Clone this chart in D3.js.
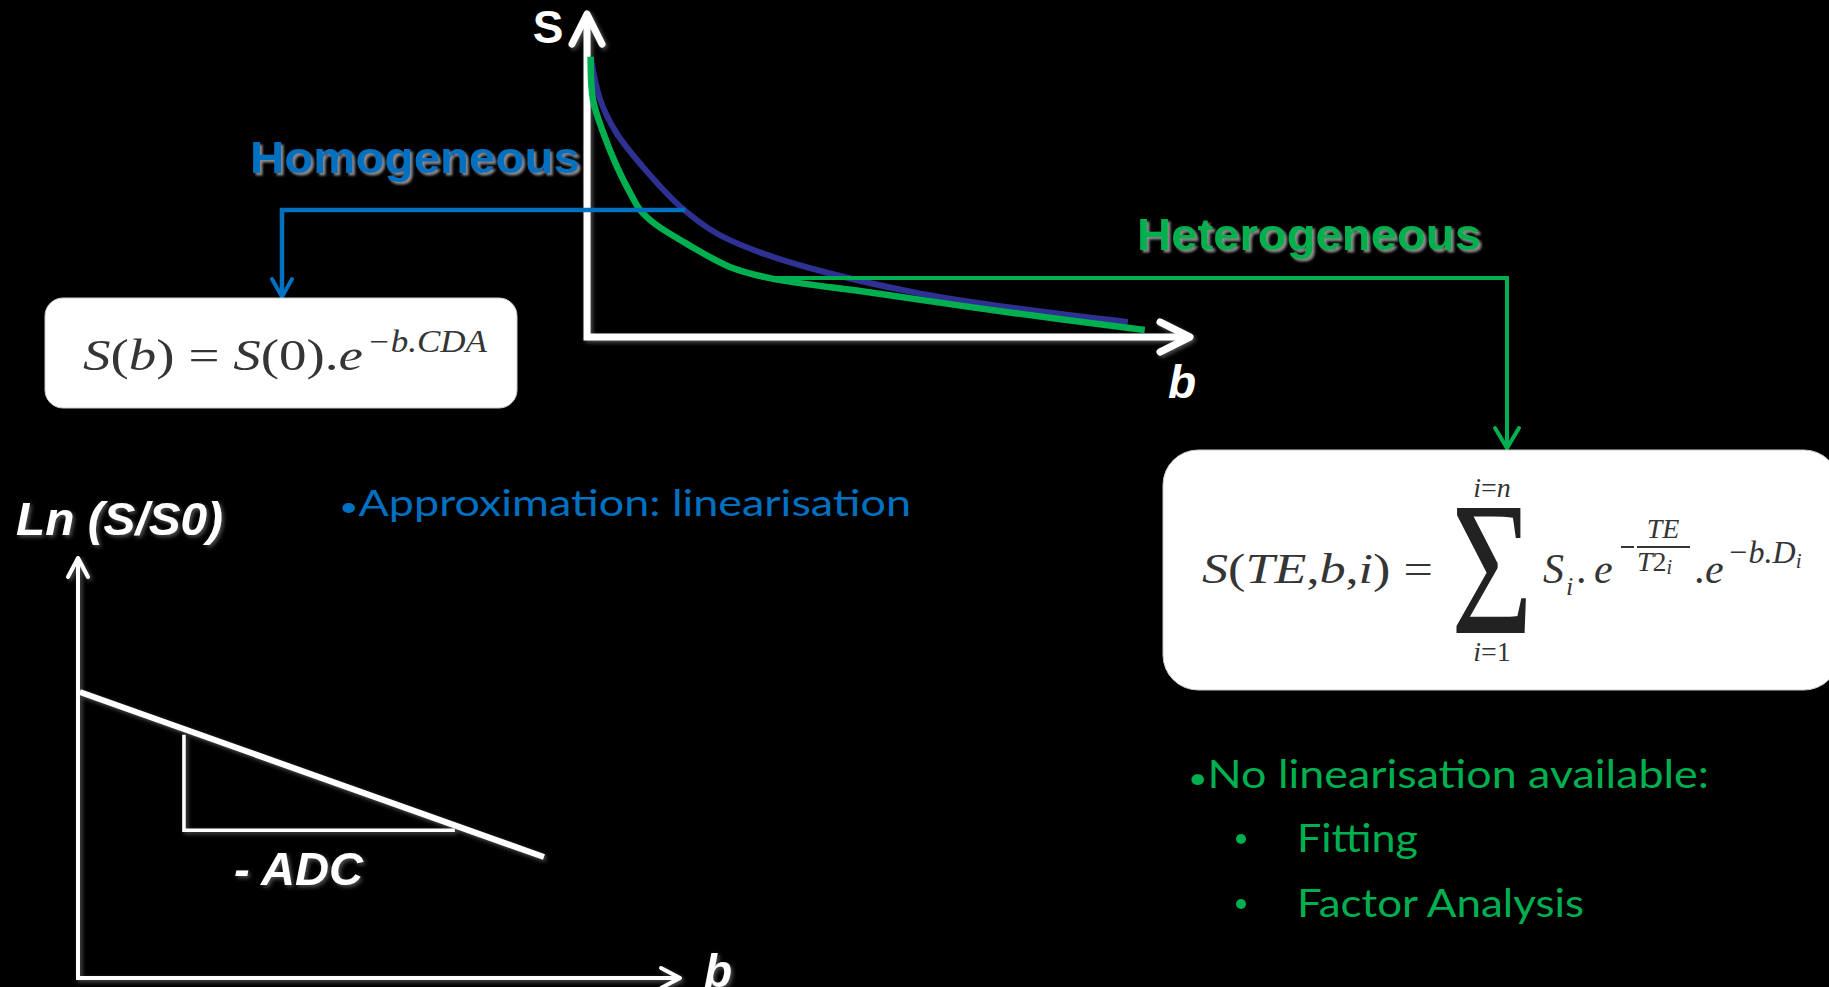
<!DOCTYPE html>
<html>
<head>
<meta charset="utf-8">
<script src="https://cdn.jsdelivr.net/npm/d3@7"></script>
<style>
  html, body { margin: 0; padding: 0; background: #000; }
  svg { display: block; }
</style>
</head>
<body>
<script>
// ---------- data ----------
// Upper chart: signal S versus b (arbitrary units, 0..100 on each axis)
const homogeneousB = [0.6, 2.2, 4.9, 9.3, 15.4, 21.4, 28.9, 40.0, 54.7, 69.5, 89.7];
const homogeneousS = [87.6, 74.1, 63.7, 53.1, 40.9, 32.5, 26.3, 20.0, 13.8, 9.4, 4.7];
const heterogeneousB = [0.6, 1.0, 2.7, 5.0, 7.5, 8.8, 11.3, 16.3, 23.7, 30.3, 47.3, 69.5, 92.5];
const heterogeneousS = [87.6, 74.1, 63.8, 53.1, 43.8, 39.7, 35.3, 29.4, 21.9, 18.4, 13.8, 7.8, 2.2];
// connector anchor points on the curves
const homogeneousAnchor = { b: 16.3, s: 39.7 };
const heterogeneousAnchor = { b: 30.3, s: 18.4 };
// Lower chart: Ln(S/S0) versus b
const lnB = [0.3, 77.4];
const lnV = [68.1, 28.8];
const slopeB = [17.6, 62.6];
const slopeV = [57.9, 35.2];

const labels = {
  topY: "S", topX: "b", botY: "Ln (S/S0)", botX: "b", slope: "- ADC",
  homo: "Homogeneous", hetero: "Heterogeneous",
  approx: "Approximation: linearisation",
  noLin: "No linearisation available:",
  items: ["Fitting", "Factor Analysis"]
};

// ---------- setup ----------
const W = 1829, H = 987;
const BLUE = "#0070C0", GREEN = "#00B050", NAVY = "#2E3192", MATH = "#353535";
const svg = d3.select("body").append("svg").attr("width", W).attr("height", H);
svg.append("rect").attr("width", W).attr("height", H).attr("fill", "#000");

const defs = svg.append("defs");
const sh = defs.append("filter").attr("id", "tshadow").attr("x", "-10%").attr("y", "-20%").attr("width", "130%").attr("height", "150%");
sh.append("feDropShadow").attr("dx", 2.5).attr("dy", 2.5).attr("stdDeviation", 1.2).attr("flood-color", "#9a9a9a").attr("flood-opacity", 0.9);
const glow = defs.append("filter").attr("id", "glow").attr("x", "-20%").attr("y", "-20%").attr("width", "140%").attr("height", "140%");
glow.append("feDropShadow").attr("dx", 2).attr("dy", 2).attr("stdDeviation", 2).attr("flood-color", "#888").attr("flood-opacity", 0.6);

// ---------- upper chart ----------
const x1 = d3.scaleLinear().domain([0, 100]).range([587, 1190]);
const y1 = d3.scaleLinear().domain([0, 100]).range([337, 17]);

const gTop = svg.append("g");
const axTop = gTop.append("g").attr("filter", "url(#glow)")
  .attr("stroke", "#fff").attr("fill", "none").attr("stroke-width", 7)
  .attr("stroke-linecap", "round").attr("stroke-linejoin", "round");
axTop.append("path").attr("d", `M${x1(0)},${y1(100) - 2} L${x1(0)},${y1(0)} L${x1(100) - 2},${y1(0)}`)
  .attr("stroke-linecap", "butt").attr("stroke-linejoin", "miter");
axTop.append("path").attr("d", `M${x1(0) - 15},${y1(100) + 27} L${x1(0)},${y1(100) - 3} L${x1(0) + 15},${y1(100) + 27}`);
axTop.append("path").attr("d", `M${x1(100) - 30},${y1(0) - 15} L${x1(100)},${y1(0)} L${x1(100) - 30},${y1(0) + 15}`);

gTop.append("text").attr("x", 548).attr("y", 43).attr("text-anchor", "middle")
  .attr("font-family", "Liberation Sans, Arial, sans-serif").attr("font-weight", "bold")
  .attr("font-size", 46).attr("fill", "#fff").text(labels.topY);
gTop.append("text").attr("x", 1182).attr("y", 398).attr("text-anchor", "middle")
  .attr("font-family", "Liberation Sans, Arial, sans-serif").attr("font-weight", "bold").attr("font-style", "italic")
  .attr("font-size", 46).attr("fill", "#fff").text(labels.topX);

// curves
const line1 = d3.line().x(d => x1(d[0])).y(d => y1(d[1])).curve(d3.curveCatmullRom.alpha(0.5));
gTop.append("path").datum(homogeneousB.map((b, i) => [b, homogeneousS[i]]))
  .attr("d", line1).attr("fill", "none").attr("stroke", NAVY).attr("stroke-width", 6);
gTop.append("path").datum(heterogeneousB.map((b, i) => [b, heterogeneousS[i]]))
  .attr("d", line1).attr("fill", "none").attr("stroke", GREEN).attr("stroke-width", 6.5);

// ---------- connectors ----------
const conn = svg.append("g").attr("fill", "none").attr("stroke-linejoin", "miter");
const hx = x1(homogeneousAnchor.b), hy = y1(homogeneousAnchor.s);
conn.append("path").attr("d", `M${hx},${hy} L282,${hy} L282,296`).attr("stroke", BLUE).attr("stroke-width", 4.5);
conn.append("path").attr("d", `M272,279 L282,297 L292,279`).attr("stroke", BLUE).attr("stroke-width", 4).attr("stroke-linecap", "round");
const gx = x1(heterogeneousAnchor.b), gy = y1(heterogeneousAnchor.s);
conn.append("path").attr("d", `M${gx - 8},${gy} L1507,${gy} L1507,446`).attr("stroke", GREEN).attr("stroke-width", 4);
conn.append("path").attr("d", `M1495,428 L1507,448 L1519,428`).attr("stroke", GREEN).attr("stroke-width", 4).attr("stroke-linecap", "round");

svg.append("text").attr("x", 250).attr("y", 173).attr("textLength", 330).attr("lengthAdjust", "spacingAndGlyphs")
  .attr("font-family", "Liberation Sans, Arial, sans-serif").attr("font-weight", "bold").attr("font-size", 45)
  .attr("fill", BLUE).attr("filter", "url(#tshadow)").text(labels.homo);
svg.append("text").attr("x", 1137).attr("y", 250).attr("textLength", 344).attr("lengthAdjust", "spacingAndGlyphs")
  .attr("font-family", "Liberation Sans, Arial, sans-serif").attr("font-weight", "bold").attr("font-size", 45)
  .attr("fill", GREEN).attr("filter", "url(#tshadow)").text(labels.hetero);

// ---------- formula boxes ----------
const SERIF = "Liberation Serif, 'DejaVu Serif', serif";
svg.append("rect").attr("x", 45).attr("y", 298).attr("width", 472).attr("height", 110).attr("rx", 18)
  .attr("fill", "#fff").attr("stroke", "#ccc").attr("stroke-width", 1);
const f1 = svg.append("text").attr("x", 83).attr("y", 370).attr("font-family", SERIF).attr("font-size", 44)
  .attr("fill", MATH).attr("textLength", 280).attr("lengthAdjust", "spacingAndGlyphs");
f1.append("tspan").attr("font-style", "italic").text("S");
f1.append("tspan").text("(");
f1.append("tspan").attr("font-style", "italic").text("b");
f1.append("tspan").text(") = ");
f1.append("tspan").attr("font-style", "italic").text("S");
f1.append("tspan").text("(0).");
f1.append("tspan").attr("font-style", "italic").text("e");
svg.append("text").attr("x", 367).attr("y", 352).attr("font-family", SERIF).attr("font-size", 31)
  .attr("font-style", "italic").attr("fill", MATH).attr("textLength", 120).attr("lengthAdjust", "spacingAndGlyphs")
  .text("\u2212b.CDA");

svg.append("rect").attr("x", 1163).attr("y", 450).attr("width", 676).attr("height", 240).attr("rx", 35)
  .attr("fill", "#fff").attr("stroke", "#ccc").attr("stroke-width", 1);
const f2 = svg.append("text").attr("x", 1202).attr("y", 583).attr("font-family", SERIF).attr("font-size", 42)
  .attr("fill", MATH).attr("textLength", 231).attr("lengthAdjust", "spacingAndGlyphs");
f2.append("tspan").attr("font-style", "italic").text("S");
f2.append("tspan").text("(");
f2.append("tspan").attr("font-style", "italic").text("TE");
f2.append("tspan").text(",");
f2.append("tspan").attr("font-style", "italic").text("b");
f2.append("tspan").text(",");
f2.append("tspan").attr("font-style", "italic").text("i");
f2.append("tspan").text(") =");
// sigma
svg.append("text").attr("x", 1451).attr("y", 633).attr("font-family", SERIF).attr("font-size", 190)
  .attr("fill", "#222").attr("textLength", 82).attr("lengthAdjust", "spacingAndGlyphs").text("\u03A3");
const lim = (y, t) => {
  const tx = svg.append("text").attr("x", 1492).attr("y", y).attr("text-anchor", "middle")
    .attr("font-family", SERIF).attr("font-size", 28).attr("fill", MATH);
  tx.append("tspan").attr("font-style", "italic").text("i");
  tx.append("tspan").text("=");
  tx.append("tspan").attr("font-style", t === "n" ? "italic" : "normal").text(t);
};
lim(497, "n");
lim(661, "1");
svg.append("text").attr("x", 1543).attr("y", 583).attr("font-family", SERIF).attr("font-size", 42)
  .attr("font-style", "italic").attr("fill", MATH).text("S");
svg.append("text").attr("x", 1566).attr("y", 595).attr("font-family", SERIF).attr("font-size", 26)
  .attr("font-style", "italic").attr("fill", MATH).text("i");
svg.append("text").attr("x", 1576).attr("y", 583).attr("font-family", SERIF).attr("font-size", 42)
  .attr("fill", MATH).text(".");
svg.append("text").attr("x", 1594).attr("y", 583).attr("font-family", SERIF).attr("font-size", 42)
  .attr("font-style", "italic").attr("fill", MATH).text("e");
svg.append("line").attr("x1", 1621).attr("x2", 1634).attr("y1", 547).attr("y2", 547).attr("stroke", MATH).attr("stroke-width", 2);
svg.append("line").attr("x1", 1637).attr("x2", 1690).attr("y1", 547).attr("y2", 547).attr("stroke", MATH).attr("stroke-width", 2);
svg.append("text").attr("x", 1663).attr("y", 538).attr("text-anchor", "middle").attr("font-family", SERIF)
  .attr("font-size", 28).attr("font-style", "italic").attr("fill", MATH).text("TE");
const den = svg.append("text").attr("x", 1637).attr("y", 571).attr("font-family", SERIF)
  .attr("font-size", 28).attr("fill", MATH);
den.append("tspan").attr("font-style", "italic").text("T");
den.append("tspan").text("2");
den.append("tspan").attr("font-style", "italic").attr("font-size", 20).attr("dy", 3).text("i");
svg.append("text").attr("x", 1694).attr("y", 583).attr("font-family", SERIF).attr("font-size", 42)
  .attr("fill", MATH).text(".");
svg.append("text").attr("x", 1705).attr("y", 583).attr("font-family", SERIF).attr("font-size", 42)
  .attr("font-style", "italic").attr("fill", MATH).text("e");
const ex2 = svg.append("text").attr("x", 1727).attr("y", 563).attr("font-family", SERIF)
  .attr("font-size", 32).attr("font-style", "italic").attr("fill", MATH);
ex2.append("tspan").text("\u2212b.D");
ex2.append("tspan").attr("font-size", 21).attr("dy", 5).text("i");

// ---------- bullet texts ----------
const SANS = "Lato, 'Open Sans', sans-serif";
const bulletText = (x, y, size, color, len, t) => {
  const tx = svg.append("text").attr("x", x).attr("y", y).attr("font-family", SANS).attr("font-size", size)
    .attr("fill", color).attr("textLength", len).attr("lengthAdjust", "spacingAndGlyphs");
  tx.append("tspan").attr("font-size", size * 0.75).text("\u2022");
  tx.append("tspan").text(t);
  return tx;
};
bulletText(339, 516, 37, BLUE, 572, labels.approx);
bulletText(1188, 788, 39, GREEN, 521, labels.noLin);
labels.items.forEach((t, i) => {
  const y = 852 + i * 65;
  svg.append("circle").attr("cx", 1241).attr("cy", y - 13).attr("r", 5).attr("fill", GREEN);
  svg.append("text").attr("x", 1297).attr("y", y).attr("font-family", SANS).attr("font-size", 39)
    .attr("fill", GREEN).attr("textLength", i === 0 ? 121 : 287).attr("lengthAdjust", "spacingAndGlyphs").text(t);
});

// ---------- lower chart ----------
const x2 = d3.scaleLinear().domain([0, 100]).range([78, 680]);
const y2 = d3.scaleLinear().domain([0, 100]).range([978, 558]);
const gBot = svg.append("g");
const axBot = gBot.append("g").attr("filter", "url(#glow)").attr("stroke", "#fff").attr("fill", "none")
  .attr("stroke-width", 4).attr("stroke-linecap", "round").attr("stroke-linejoin", "round");
axBot.append("path").attr("d", `M${x2(0)},${y2(100)} L${x2(0)},${y2(0)} L${x2(100)},${y2(0)}`)
  .attr("stroke-linejoin", "miter").attr("stroke-linecap", "butt");
axBot.append("path").attr("d", `M${x2(0) - 10},${y2(100) + 19} L${x2(0)},${y2(100)} L${x2(0) + 10},${y2(100) + 19}`);
axBot.append("path").attr("d", `M${x2(100) - 19},${y2(0) - 10} L${x2(100)},${y2(0)} L${x2(100) - 19},${y2(0) + 10}`);

const line2 = d3.line().x(d => x2(d[0])).y(d => y2(d[1]));
gBot.append("path").datum(lnB.map((b, i) => [b, lnV[i]])).attr("d", line2)
  .attr("fill", "none").attr("stroke", "#fff").attr("stroke-width", 6).attr("filter", "url(#glow)");
gBot.append("path").datum([[slopeB[0], slopeV[0]], [slopeB[0], slopeV[1]], [slopeB[1], slopeV[1]]]).attr("d", line2)
  .attr("fill", "none").attr("stroke", "#fff").attr("stroke-width", 3.5).attr("filter", "url(#glow)");

const boldIt = (x, y, t, anchor) => gBot.append("text").attr("x", x).attr("y", y).attr("text-anchor", anchor || "start")
  .attr("font-family", "Liberation Sans, Arial, sans-serif").attr("font-weight", "bold").attr("font-style", "italic")
  .attr("font-size", 46).attr("fill", "#fff").attr("filter", "url(#glow)").text(t);
boldIt(16, 535, labels.botY).attr("textLength", 207).attr("lengthAdjust", "spacingAndGlyphs");
boldIt(234, 885, labels.slope).attr("textLength", 129).attr("lengthAdjust", "spacingAndGlyphs");
boldIt(718, 987, labels.botX, "middle");
</script>
</body>
</html>
